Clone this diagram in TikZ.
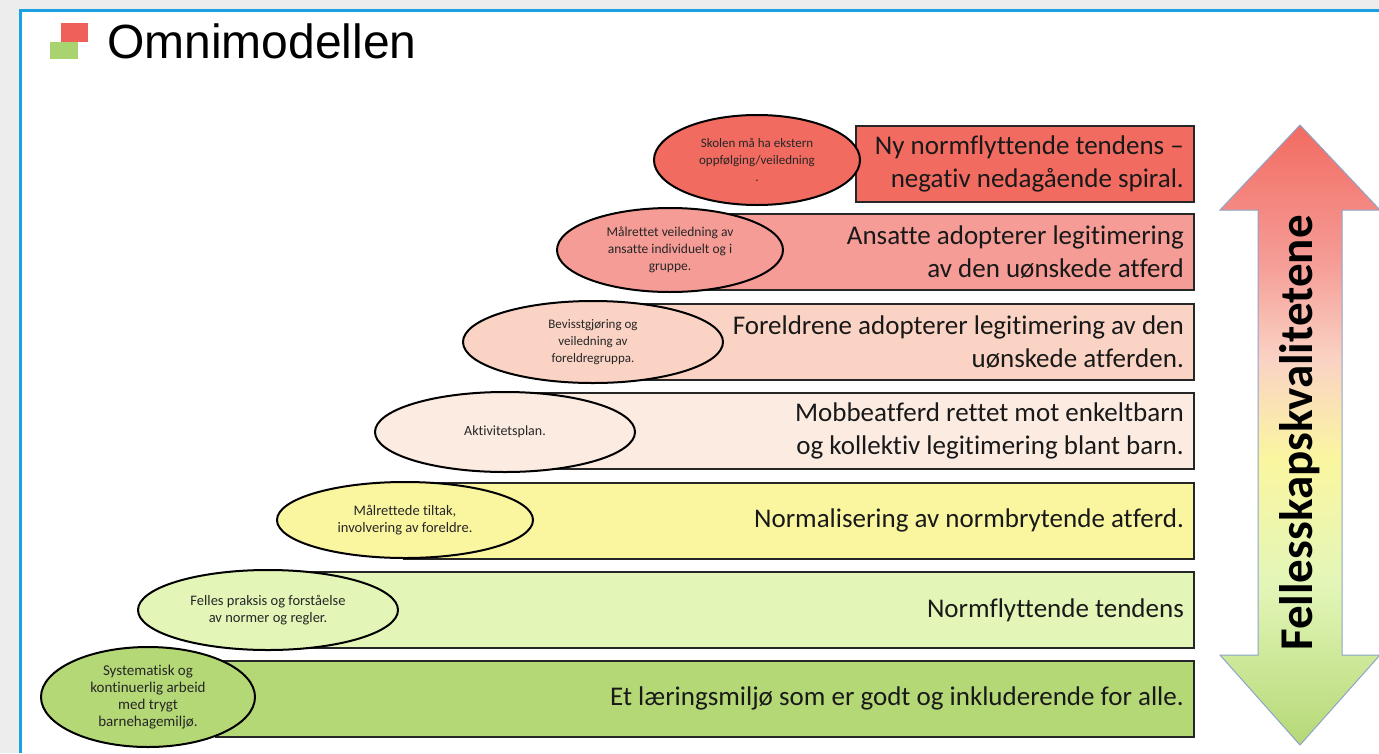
\documentclass[tikz,border=0pt]{standalone}
\usepackage{fontspec}
\setmainfont[Ligatures=NoCommon]{Carlito}
\newfontfamily\titlefont{Liberation Sans}
\usetikzlibrary{shapes.geometric}

\definecolor{pagegray}{HTML}{EDEDED}
\definecolor{frameblue}{HTML}{1BA1E2}
\definecolor{lvlA}{HTML}{F26B61}
\definecolor{lvlB}{HTML}{F59C96}
\definecolor{lvlC}{HTML}{FAD3C4}
\definecolor{lvlD}{HTML}{FCEBE1}
\definecolor{lvlE}{HTML}{FAF6A0}
\definecolor{lvlF}{HTML}{E3F6B8}
\definecolor{lvlG}{HTML}{B5D876}
\definecolor{logored}{HTML}{F0605A}
\definecolor{logogreen}{HTML}{A9D36E}
\definecolor{arrowedge}{HTML}{8EA4C8}

% red at the top, yellow in the middle, green at the bottom
\pgfdeclareverticalshading{quality}{100bp}{
    color(0bp)=(lvlG); color(25bp)=(lvlG); color(38bp)=(lvlF);
    color(48bp)=(lvlE); color(56bp)=(lvlC); color(64bp)=(lvlB);
    color(75bp)=(lvlA); color(100bp)=(lvlA)}

\tikzset{
    bar/.style={draw=black!85, line width=1.6pt, inner sep=0pt, minimum height=76pt},
    bartext/.style={align=right, text=black!90, inner sep=0pt,
        font=\fontsize{27}{33}\selectfont},
    goal/.style={ellipse, draw=black, line width=2pt, inner sep=0pt,
        align=center, text=black!85},
}

\begin{document}
\begin{tikzpicture}[x=1pt,y=-1pt]

% Page and frame.
\useasboundingbox (0,0) rectangle (1379,753);
\fill[pagegray] (0,0) rectangle (1379,753);
\fill[white] (20,10) rectangle (1379,753);
\draw[frameblue, line width=3pt] (20,753) -- (20,10) -- (1379,10);

% Title with the two little squares.
\fill[logored] (61,23) rectangle (88,42);
\fill[logogreen] (50,42) rectangle (78,59);
\node[anchor=base west, inner sep=0pt, font=\titlefont\fontsize{48}{48}\selectfont]
    (title) at (107,58) {Omnimodellen};

% Loop for each level bar.
\foreach \n/\ya/\xl/\col/\txt in {
    1/125/857/lvlA/{Ny normflyttende tendens –\\negativ nedagående spiral.},
    2/213/670/lvlB/{Ansatte adopterer legitimering\\av den uønskede atferd},
    3/303/593/lvlC/{Foreldrene adopterer legitimering av den\\uønskede atferden.},
    4/392/505/lvlD/{Mobbeatferd rettet mot enkeltbarn\\og kollektiv legitimering blant barn.},
    5/482/405/lvlE/{Normalisering av normbrytende atferd.},
    6/571/268/lvlF/{Normflyttende tendens},
    7/660/217/lvlG/{Et læringsmiljø som er godt og inkluderende for alle.}} {

    % Draw the bar.
    \node[bar, fill=\col, anchor=north east, minimum width={(1195-\xl)*1pt}]
        (bar\n) at (1195,\ya) {};

    % Right aligned text in the bar.
    \node[bartext, anchor=east] (level\n) at ([xshift=-11pt]bar\n.east) {\txt};
}

% Loop for each ellipse, on top of the bars.
\foreach \n/\cx/\cy/\rx/\ry/\fs/\col/\txt in {
    1/757/160/103/45/13/lvlA/{Skolen må ha ekstern\\oppfølging/veiledning\\.},
    2/670/250/113/42/13.5/lvlB/{Målrettet veiledning av\\ansatte individuelt og i\\gruppe.},
    3/593/342/130/41/13/lvlC/{Bevisstgjøring og\\veiledning av\\foreldregruppa.},
    4/505/432/130/40/14/lvlD/{Aktivitetsplan.},
    5/405/520/128/38/14.5/lvlE/{Målrettede tiltak,\\involvering av foreldre.},
    6/268/610/130/40/14.5/lvlF/{Felles praksis og forståelse\\av normer og regler.},
    7/148/697/107/50/15/lvlG/{Systematisk og\\kontinuerlig arbeid\\med trygt\\barnehagemiljø.}} {

    \node[goal, fill=\col, font=\fontsize{\fs}{17}\selectfont,
        minimum width={2*\rx*1pt}, minimum height={2*\ry*1pt}]
        (goal\n) at (\cx,\cy) {\txt};
}

% Double arrow on the right.
\shadedraw[draw=arrowedge, line width=1pt, shading=quality]
    (1300,125) -- (1380,210) -- (1342,210) -- (1342,655) -- (1380,655)
    -- (1300,745) -- (1220,655) -- (1258,655) -- (1258,210) -- (1220,210)
    -- cycle;

% Label along the arrow.
\node[rotate=90, inner sep=0pt, font=\bfseries\fontsize{47}{47}\selectfont]
    (quality) at (1300,433) {Fellesskapskvalitetene};

\end{tikzpicture}
\end{document}
